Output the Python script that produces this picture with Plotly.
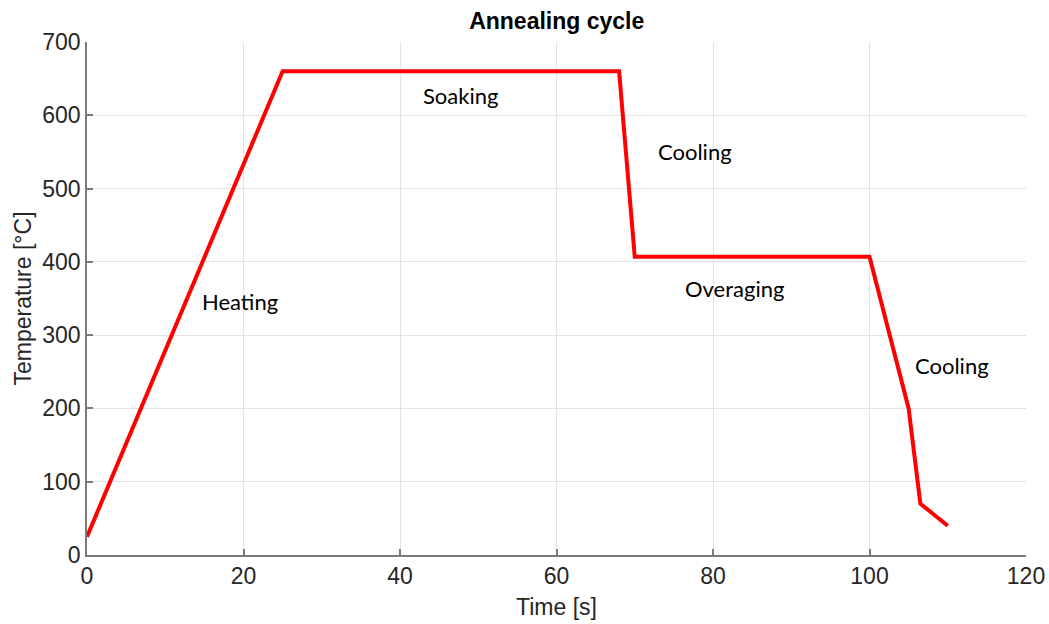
import plotly.graph_objects as go

# Annealing cycle: time [s] vs temperature [°C]
time_s = [0, 25, 68, 70, 100, 105, 106.5, 110]
temp_c = [25, 660, 660, 407, 407, 200, 70, 40]

# Stage labels and where they sit in data coordinates
stage_names = ["Heating", "Soaking", "Cooling", "Overaging", "Cooling"]
stage_x = [19.5, 47.7, 77.7, 82.8, 110.6]
stage_y = [346, 627, 551, 364, 259]

x_ticks = [0, 20, 40, 60, 80, 100, 120]
y_ticks = [0, 100, 200, 300, 400, 500, 600, 700]

fig = go.Figure()
fig.add_trace(go.Scatter(
    x=time_s, y=temp_c, mode="lines",
    line=dict(color="#ff0000", width=4),
    showlegend=False, hoverinfo="skip",
))

for name, sx, sy in zip(stage_names, stage_x, stage_y):
    fig.add_annotation(
        x=sx, y=sy, text=name, showarrow=False,
        font=dict(family="Lato", size=22, color="#000000"),
        xanchor="center", yanchor="middle",
    )

base_font = "Liberation Sans"
axis_common = dict(
    showgrid=True, gridcolor="#e3e3e3", gridwidth=1,
    showline=True, linecolor="#7a7a7a", linewidth=1.5,
    ticks="inside", ticklen=6, tickcolor="#7a7a7a", tickwidth=1.5,
    zeroline=False, mirror=False, automargin=False,
    tickfont=dict(family=base_font, size=23, color="#262626"),
    title_font=dict(family=base_font, size=23, color="#262626"),
)

fig.update_layout(
    width=1049, height=624, autosize=False,
    margin=dict(l=87, r=23, t=42, b=69, autoexpand=False),
    paper_bgcolor="white", plot_bgcolor="white",
    title=dict(
        text="<b>Annealing cycle</b>", x=0.5307, xanchor="center",
        y=0.967, yanchor="middle",
        font=dict(family=base_font, size=23, color="#000000"),
    ),
    xaxis=dict(range=[0, 120], tickvals=x_ticks, title=dict(text="Time [s]", standoff=11), **axis_common),
    yaxis=dict(range=[0, 700], tickvals=y_ticks, title=dict(text="Temperature [°C]", standoff=4), **axis_common),
)

fig.write_html("out.html")
